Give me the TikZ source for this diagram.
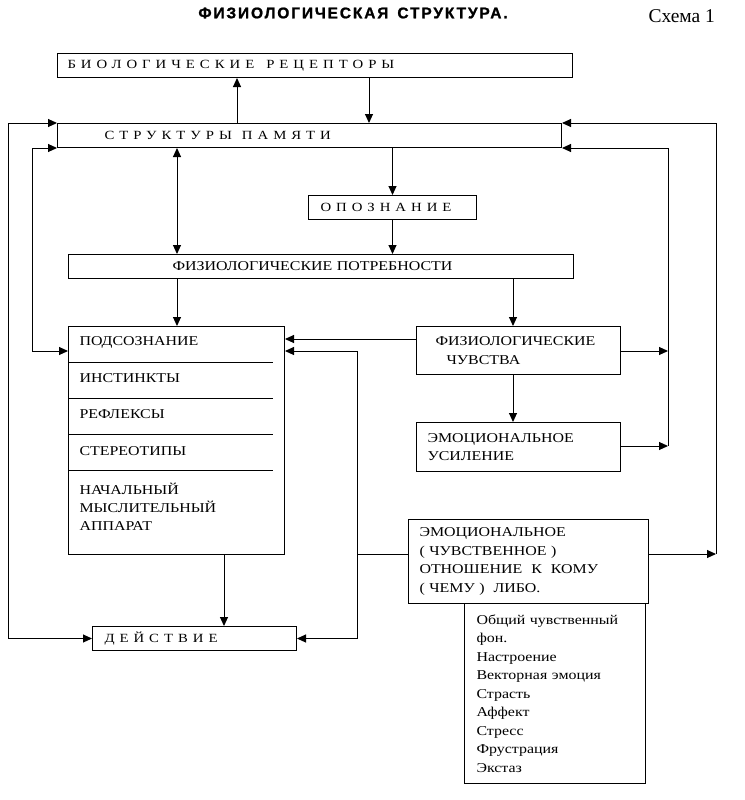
\documentclass[tikz,border=0pt]{standalone}
\usepackage{fontspec}
\setmainfont{Liberation Serif}
\newfontfamily\boxfont[FakeStretch=1.18]{Liberation Serif}
\newfontfamily\spacedfont[FakeStretch=1.18,LetterSpace=40]{Liberation Serif}
\newfontfamily\titlefont[LetterSpace=12,BoldFeatures={FakeBold=1.2}]{Liberation Sans}
\usetikzlibrary{arrows.meta}
\begin{document}
\begin{tikzpicture}[x=1pt,y=-1pt,line width=1pt,
  box/.style={draw,rectangle,anchor=north west,inner ysep=0pt,align=left,
    font=\boxfont\fontsize{13.5}{18.5}\selectfont},
  sbox/.style={box,font=\spacedfont\fontsize{12.5}{15}\selectfont},
  itemtxt/.style={anchor=base west,inner sep=0pt,align=left,
    font=\boxfont\fontsize{13.5}{18}\selectfont},
  arr/.style={-{Triangle[length=9pt,width=8pt]}},
  arrb/.style={{Triangle[length=9pt,width=8pt]}-{Triangle[length=9pt,width=8pt]}}]
\useasboundingbox (0,0) rectangle (744,800);
% titles
\node[font=\titlefont\bfseries\fontsize{15.5}{17}\selectfont] (title) at (353,13) {ФИЗИОЛОГИЧЕСКАЯ\hspace{9pt}СТРУКТУРА.};
\node[anchor=base west,inner sep=0pt,font=\fontsize{19.5}{22}\selectfont] (schema) at (648,23) {Схема 1};
% boxes
\node[sbox,minimum height=24pt,inner xsep=10pt,text width=495pt] (br) at (57,53) {БИОЛОГИЧЕСКИЕ\hspace{12pt}РЕЦЕПТОРЫ};
\node[sbox,minimum height=24pt,inner xsep=47pt,text width=410pt] (mem) at (57,123) {СТРУКТУРЫ\hspace{10pt}ПАМЯТИ};
\node[sbox,minimum height=24pt,inner xsep=12pt,text width=144pt] (opz) at (308,195) {ОПОЗНАНИЕ};
\node[box,minimum height=24pt,inner xsep=10pt,text width=485pt] (fp) at (68,254) {\hspace*{94pt}ФИЗИОЛОГИЧЕСКИЕ ПОТРЕБНОСТИ};
\node[draw,rectangle,anchor=north west,minimum width=216pt,minimum height=228pt,inner sep=0pt] (big) at (68,326) {};
\node[box,minimum height=48pt,inner xsep=10pt,text width=184pt] (fch) at (416,326) {\hspace*{9pt}ФИЗИОЛОГИЧЕСКИЕ\\\hspace*{20pt}ЧУВСТВА};
\node[box,minimum height=49pt,inner xsep=11pt,text width=182pt] (eu) at (416,422) {ЭМОЦИОНАЛЬНОЕ\\УСИЛЕНИЕ};
\node[box,minimum height=84pt,inner xsep=11pt,text width=218pt] (eo) at (408,519) {ЭМОЦИОНАЛЬНОЕ\\(~ЧУВСТВЕННОЕ~)\\ОТНОШЕНИЕ~~К~~КОМУ\\(~ЧЕМУ~)~~ЛИБО.};
\node[box,minimum height=180pt,inner xsep=12pt,text width=157pt] (lst) at (464,603) {Общий чувственный\\фон.\\Настроение\\Векторная эмоция\\Страсть\\Аффект\\Стресс\\Фрустрация\\Экстаз};
\node[sbox,minimum height=24pt,inner xsep=12pt,text width=180pt] (act) at (92,626) {ДЕЙСТВИЕ};
% contents of the big box
\node[itemtxt] (t1) at (79,345.5) {ПОДСОЗНАНИЕ};
\node[itemtxt] (t2) at (79,382.5) {ИНСТИНКТЫ};
\node[itemtxt] (t3) at (79,418.5) {РЕФЛЕКСЫ};
\node[itemtxt] (t4) at (79,455.5) {СТЕРЕОТИПЫ};
\node[itemtxt,anchor=west] (t5) at (79,507) {НАЧАЛЬНЫЙ\\МЫСЛИТЕЛЬНЫЙ\\АППАРАТ};
\coordinate (d1) at (273,362);
\coordinate (d2) at (273,398);
\coordinate (d3) at (273,434);
\coordinate (d4) at (273,470);
\foreach \d in {d1,d2,d3,d4} \draw (big.west |- \d) -- (\d);
% connectors
\coordinate (x237) at (237,100);
\coordinate (x369) at (369,100);
\draw[arr] (x237 |- mem.north) -- (x237 |- br.south);
\draw[arr] (x369 |- br.south) -- (x369 |- mem.north);
\coordinate (L1) at (8,400);
\draw[arrb] (mem.north west) -- (L1 |- mem.north west) -- (L1 |- act.west) -- (act.west);
\coordinate (L2) at (32,351);
\draw[arrb] (mem.south west) -- (L2 |- mem.south west) -- (L2) -- (big.west |- L2);
\draw[arr] (opz.north |- mem.south) -- (opz.north);
\draw[arr] (opz.south) -- (opz.south |- fp.north);
\coordinate (x177) at (177,200);
\draw[arrb] (x177 |- mem.south) -- (x177 |- fp.north);
\draw[arr] (x177 |- fp.south) -- (x177 |- big.north);
\coordinate (x513) at (513,300);
\draw[arr] (x513 |- fp.south) -- (x513 |- fch.north);
\draw[arr] (x513 |- fch.south) -- (x513 |- eu.north);
\coordinate (y339) at (350,339);
\draw[arr] (fch.west |- y339) -- (big.east |- y339);
\coordinate (R1) at (668,351);
\coordinate (R1b) at (668,446);
\draw[arr] (fch.east |- R1) -- (R1);
\draw[arr] (eu.east |- R1b) -- (R1b);
\draw[arr] (R1b) -- (R1b |- mem.south east) -- (mem.south east);
\coordinate (R2) at (716,554);
\draw[arr] (eo.east |- R2) -- (R2);
\draw[arr] (R2) -- (R2 |- mem.north east) -- (mem.north east);
\coordinate (M1) at (357,351);
\draw[arrb] (big.east |- M1) -- (M1) -- (M1 |- act.east) -- (act.east);
\draw (eo.west |- R2) -- (M1 |- R2);
\coordinate (x224) at (224,600);
\draw[arr] (x224 |- big.south) -- (x224 |- act.north);
\end{tikzpicture}
\end{document}
